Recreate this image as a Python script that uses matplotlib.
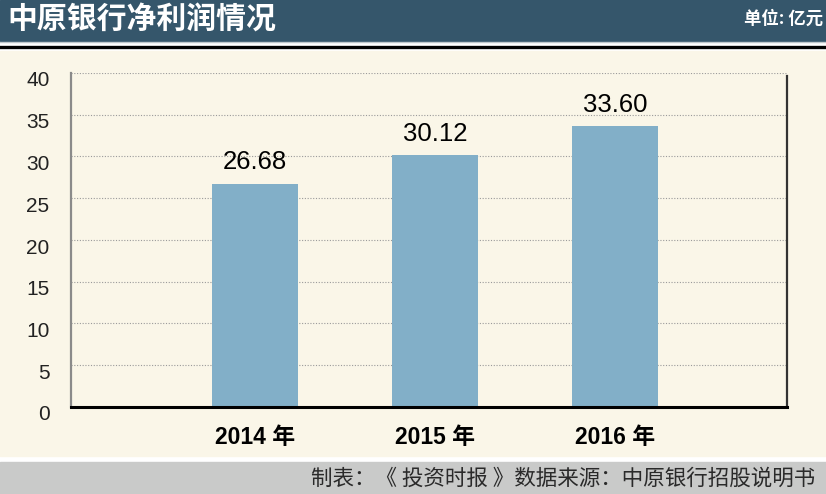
import matplotlib
matplotlib.use("Agg")
import matplotlib.pyplot as plt
from matplotlib.patches import Rectangle
from matplotlib.lines import Line2D
from matplotlib.transforms import ScaledTranslation

## DATA
years = ["2014 年", "2015 年", "2016 年"]
profit = [26.68, 30.12, 33.60]
value_labels = ["26.68", "30.12", "33.60"]
yticks = [0, 5, 10, 15, 20, 25, 30, 35, 40]

title = "中原银行净利润情况"
unit = "单位: 亿元"
source = "制表：《 投资时报 》数据来源：中原银行招股说明书"

## STYLE
W, H = 826, 494
cream = "#faf6e8"
header = "#35566b"
bar_col = "#82afc8"
footer = "#c9cac9"
cjk = ["Noto Sans CJK SC", "DejaVu Sans"]
latin = ["Liberation Sans", "Noto Sans CJK SC"]

fig = plt.figure(figsize=(W / 100, H / 100), dpi=100)
fig.patch.set_facecolor("white")

def px_rect(x0, y0, x1, y1, color):  # rectangle in pixel coords, y from top
    fig.patches.append(Rectangle((x0 / W, 1 - y1 / H), (x1 - x0) / W, (y1 - y0) / H,
                                 transform=fig.transFigure, color=color, zorder=-5))

def px_hline(y, x0, x1, color, lw):
    fig.lines.append(Line2D([x0 / W, x1 / W], [1 - y / H, 1 - y / H],
                            transform=fig.transFigure, color=color, linewidth=lw, zorder=-4))

# background pieces
px_rect(0, 51, W, 456, cream)
px_rect(0, 0, W, 41, header)
px_hline(42, 0, W, "#c0c8cc", 1.0)
px_hline(46.8, 0, W, "black", 2.4)
px_rect(0, 462, W, H, footer)

fig.text(7 / W, 1 - 19 / H, title, color="white", fontsize=21.5, fontweight="bold",
         family=cjk, ha="left", va="center")
fig.text(823 / W, 1 - 19 / H, unit, color="white", fontsize=12.5, fontweight="bold",
         family=cjk, ha="right", va="center")
fig.text(815 / W, 1 - 479 / H, source, color="#2a2a2a", fontsize=15.5,
         family=cjk, ha="right", va="center")

## AXES
left, right, top, bottom = 71, 787, 73, 407
ax = fig.add_axes([left / W, 1 - bottom / H, (right - left) / W, (bottom - top) / H])
ax.set_facecolor("none")

x = list(range(len(years)))
ax.bar(x, profit, width=0.478, color=bar_col, zorder=2)
for xi, v, lab in zip(x, profit, value_labels):
    ax.annotate(lab, (xi, v), xytext=(0, 7), textcoords="offset points",
                ha="center", va="bottom", fontsize=18.5, family=latin, color="black")

ax.set_xlim(-1.022, 2.956)
ax.set_ylim(0, 40)
ax.set_yticks(yticks)
ax.set_xticks(x)
ax.set_xticklabels(years, fontsize=16.5, fontweight="bold", family=latin)
ax.tick_params(axis="x", length=0, pad=14)
ax.tick_params(axis="y", length=0, pad=15.5, labelsize=15, labelcolor="#222222")
for lab in ax.get_yticklabels():
    lab.set_family(latin)
    lab.set_transform(lab.get_transform() + ScaledTranslation(0, -6 / 100, fig.dpi_scale_trans))

ax.yaxis.grid(True, linestyle=(0, (1, 1.5)), color="#9a9a9a", linewidth=0.8, zorder=1)
ax.set_axisbelow(True)

ax.spines["top"].set_visible(False)
ax.spines["left"].set_color("#8a8a8a")
ax.spines["left"].set_linewidth(1.6)
ax.spines["right"].set_color("#333333")
ax.spines["right"].set_linewidth(1.6)
ax.spines["right"].set_bounds(0, 39.6)
ax.spines["bottom"].set_color("black")
ax.spines["bottom"].set_linewidth(2.2)
ax.spines["bottom"].set_zorder(3)

fig.savefig("out.png", dpi=100, facecolor=fig.get_facecolor())
